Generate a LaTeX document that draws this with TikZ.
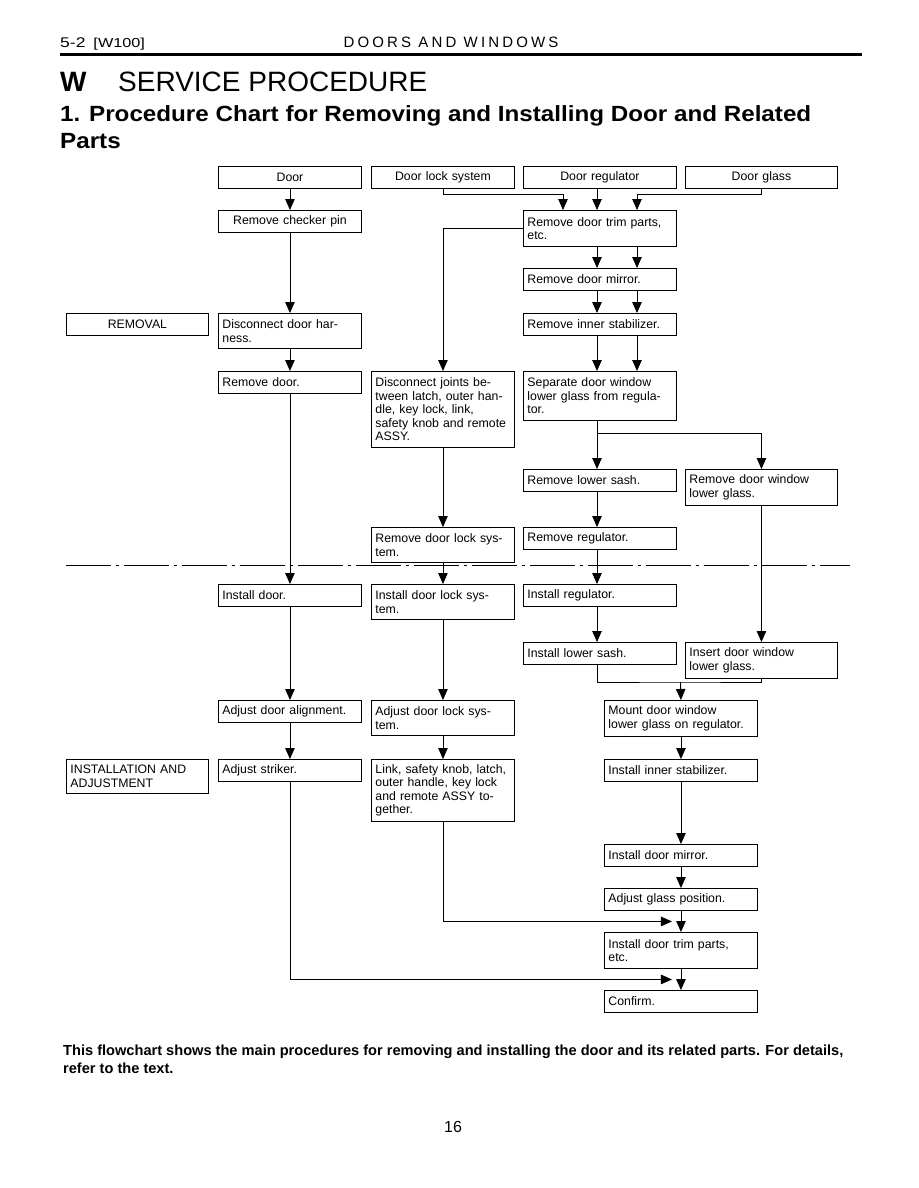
\documentclass[tikz,border=0pt]{standalone}
\usepackage{fontspec}
\setmainfont{Liberation Sans}
\newfontfamily\hdfont[LetterSpace=21]{Liberation Sans}
\usetikzlibrary{arrows.meta,calc}
\tikzset{
  box/.style={draw, line width=0.9pt, anchor=north west, inner xsep=4pt, inner ysep=2pt,
              align=left, font=\fontsize{12.3}{13.5}\selectfont, minimum height=22pt},
  wA/.style={text width=135pt},
  wB/.style={text width=145pt},
  wG/.style={text width=144pt},
  wL/.style={text width=134pt},
  arr/.style={line width=0.9pt, -{Triangle[width=9.5pt,length=11pt]}},
  ln/.style={line width=0.9pt},
}
\begin{document}
\begin{tikzpicture}[x=1pt,y=-1pt]
\useasboundingbox (0,0) rectangle (918,1188);

% header
\node[anchor=base west, inner sep=0, font=\fontsize{14}{14}\selectfont] (pgno) at (60,48) {\scalebox{1.25}[1]{5-2}\hspace{8pt}{\fontsize{13}{13}\selectfont \scalebox{1.25}[1]{[W100]}}};
\node[anchor=base, inner sep=0, font=\fontsize{15}{15}\selectfont] (sec) at (451,48) {\hdfont DOORS AND WINDOWS};
\draw[line width=3pt] (60,55) -- (862,55);
\node[anchor=base west, inner sep=0, font=\fontsize{28}{28}\selectfont] (title) at (60,92) {\makebox[58pt][l]{\textbf{W}}SERVICE PROCEDURE};
\node[anchor=base west, inner sep=0, font=\bfseries\fontsize{22}{22}\selectfont] (sub1) at (60,122) {\scalebox{1.1}[1]{1.\hspace{8pt}Procedure Chart for Removing and Installing Door and Related}};
\node[anchor=base west, inner sep=0, font=\bfseries\fontsize{22}{22}\selectfont] (sub2) at (60,149) {\scalebox{1.1}[1]{Parts}};

% boxes
\node[box,wA,align=center] (door) at (218,166) {Door};
\node[box,wA,align=center] (lock) at (371,166) {Door lock system};
\node[box,wB,align=center] (reg) at (523,166) {Door regulator};
\node[box,wG,align=center] (glass) at (685,166) {Door glass};
\node[box,wA,align=center] (chk) at (218,210) {Remove checker pin};
\node[box,wB,minimum height=36pt] (trim) at (523,210) {Remove door trim parts,\\etc.};
\node[box,wB] (rmir) at (523,268) {Remove door mirror.};
\node[box,wL,align=center] (removal) at (66,313) {REMOVAL};
\node[box,wA,minimum height=35pt] (harn) at (218,313) {Disconnect door har-\\ness.};
\node[box,wB] (rstab) at (523,313) {Remove inner stabilizer.};
\node[box,wA] (rdoor) at (218,371) {Remove door.};
\node[box,wA,minimum height=76pt] (disj) at (371,371) {Disconnect joints be-\\tween latch, outer han-\\dle, key lock, link,\\safety knob and remote\\ASSY.};
\node[box,wB,minimum height=49pt] (sep) at (523,371) {Separate door window\\lower glass from regula-\\tor.};
\node[box,wB] (rsash) at (523,469) {Remove lower sash.};
\node[box,wG,minimum height=36pt] (rglass) at (685,469) {Remove door window\\lower glass.};
\node[box,wA,minimum height=35pt] (rlock) at (371,527) {Remove door lock sys-\\tem.};
\node[box,wB] (rreg) at (523,527) {Remove regulator.};
\node[box,wA] (idoor) at (218,584) {Install door.};
\node[box,wA,minimum height=35pt] (ilock) at (371,584) {Install door lock sys-\\tem.};
\node[box,wB] (ireg) at (523,584) {Install regulator.};
\node[box,wB] (isash) at (523,642) {Install lower sash.};
\node[box,wG,minimum height=36pt] (iglass) at (685,642) {Insert door window\\lower glass.};
\node[box,wA] (nalign) at (218,700) {Adjust door alignment.};
\node[box,wA,minimum height=35pt] (alock) at (371,700) {Adjust door lock sys-\\tem.};
\node[box,wB,minimum height=36pt] (mount) at (604,700) {Mount door window\\lower glass on regulator.};
\node[box,wL,minimum height=34pt] (inst) at (66,759) {INSTALLATION AND\\ADJUSTMENT};
\node[box,wA] (strk) at (218,759) {Adjust striker.};
\node[box,wA,minimum height=62pt] (link) at (371,759) {Link, safety knob, latch,\\outer handle, key lock\\and remote ASSY to-\\gether.};
\node[box,wB] (istab) at (604,759) {Install inner stabilizer.};
\node[box,wB] (imir) at (604,844) {Install door mirror.};
\node[box,wB] (adjg) at (604,888) {Adjust glass position.};
\node[box,wB,minimum height=36pt] (itrim) at (604,932) {Install door trim parts,\\etc.};
\node[box,wB] (conf) at (604,990) {Confirm.};

% helper x positions
\coordinate (xm) at (563,0);
\coordinate (xl) at (597,0);
\coordinate (xr) at (637,0);
\coordinate (br) at (597,433);
\coordinate (jn) at (680.5,682);

% dashed separator
\draw[ln, dash pattern=on 45pt off 5pt on 3pt off 5pt] (66,565) -- (850,565);

% connectors
\draw[arr] (door) -- (chk);
\draw[arr] (chk) -- (harn);
\draw[arr] (harn) -- (rdoor);
\draw[arr] (rdoor) -- (idoor);
\draw[arr] (lock.south) -- ++(0,6) -| (xm |- trim.north);
\draw[arr] (xl |- reg.south) -- (xl |- trim.north);
\draw[arr] (glass.south) -- ++(0,6) -| (xr |- trim.north);
\foreach \a/\b in {trim/rmir, rmir/rstab, rstab/sep}{
  \draw[arr] (xl |- \a.south) -- (xl |- \b.north);
  \draw[arr] (xr |- \a.south) -- (xr |- \b.north);
}
\draw[arr] (trim.west) -| (disj.north);
\draw[arr] (disj) -- (rlock);
\draw[arr] (rlock) -- (ilock);
\draw[arr] (xl |- sep.south) -- (xl |- rsash.north);
\draw[arr] (br) -| (rglass.north);
\draw[arr] (xl |- rsash.south) -- (xl |- rreg.north);
\draw[arr] (xl |- rreg.south) -- (xl |- ireg.north);
\draw[arr] (rglass) -- (iglass);
\draw[arr] (xl |- ireg.south) -- (xl |- isash.north);
\draw[ln] (xl |- isash.south) |- (jn) -| (iglass.south);
\draw[arr] (jn) -- (mount.north);
\draw[arr] (idoor) -- (nalign);
\draw[arr] (nalign) -- (strk);
\draw[arr] (ilock) -- (alock);
\draw[arr] (alock) -- (link);
\draw[arr] (mount) -- (istab);
\draw[arr] (istab) -- (imir);
\draw[arr] (imir) -- (adjg);
\draw[arr] (adjg) -- (itrim);
\draw[arr] (itrim) -- (conf);
\coordinate (m1) at ($(adjg.south)!0.5!(itrim.north)+(-9,0)$);
\coordinate (m2) at ($(itrim.south)!0.5!(conf.north)+(-9,0)$);
\draw[arr] (link.south) |- (m1);
\draw[arr] (strk.south) |- (m2);

% footer
\node[anchor=base west, inner sep=0, font=\bfseries\fontsize{14.6}{14.6}\selectfont] (foot1) at (63,1055) {This flowchart shows the main procedures for removing and installing the door and its related parts. For details,};
\node[anchor=base west, inner sep=0, font=\bfseries\fontsize{14.6}{14.6}\selectfont] (foot2) at (63,1073) {refer to the text.};
\node[anchor=base, inner sep=0, font=\fontsize{16}{16}\selectfont] (page) at (453,1132) {16};
\end{tikzpicture}
\end{document}
